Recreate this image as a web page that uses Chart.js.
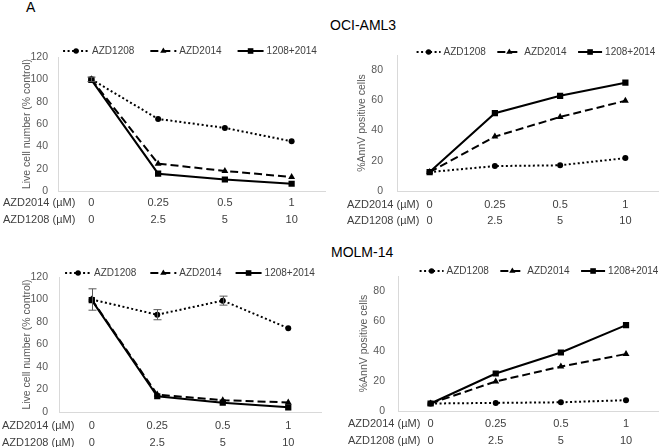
<!DOCTYPE html>
<html>
<head>
<meta charset="utf-8">
<script src="https://cdn.jsdelivr.net/npm/chart.js@4.4.1/dist/chart.umd.min.js"></script>
<style>
  body { margin: 0; background: #fff; }
  #page { position: relative; width: 663px; height: 447px; overflow: hidden; font-family: "Liberation Sans", Arial, sans-serif; }
  canvas { position: absolute; }
  .panel-title { position: absolute; color: #000; font-size: 14px; line-height: 16px; white-space: nowrap; }
</style>
</head>
<body>
<div id="page">
  <div class="panel-title" style="left:26px; top:-1px;">A</div>
  <div class="panel-title" style="left:330px; top:17px;">OCI-AML3</div>
  <div class="panel-title" style="left:331px; top:244px;">MOLM-14</div>
  <canvas id="ociLive" width="331" height="230" style="left:0; top:0;"></canvas>
  <canvas id="ociAnnV" width="332" height="230" style="left:331px; top:0;"></canvas>
  <canvas id="molmLive" width="331" height="217" style="left:0; top:230px;"></canvas>
  <canvas id="molmAnnV" width="332" height="217" style="left:331px; top:230px;"></canvas>
</div>
<script>
// Doses (two rows of x labels) and series names
const doseAZD2014 = ["0", "0.25", "0.5", "1"];
const doseAZD1208 = ["0", "2.5", "5", "10"];
const rowNames = ["AZD2014 (\u00b5M)", "AZD1208 (\u00b5M)"];
const seriesNames = ["AZD1208", "AZD2014", "1208+2014"];

// OCI-AML3
const ociLive1208 = [100, 64.5, 56.5, 44.5];
const ociLive2014 = [100, 24.5, 18, 12.5];
const ociLiveCombo = [99.5, 15.5, 10.3, 6.5];
const ociLive1208Err = [2, 0, 0, 0];
const ociAnnV1208 = [12.5, 16.5, 17, 21.8];
const ociAnnV2014 = [12.5, 36, 49, 59.7];
const ociAnnVCombo = [12.5, 51.5, 63, 71.7];

// MOLM-14
const molmLive1208 = [100, 86.5, 99, 74.5];
const molmLive2014 = [100, 15.5, 10.5, 8.5];
const molmLiveCombo = [99.5, 14, 8.3, 4.2];
const molmLive1208Err = [9.5, 4.5, 4, 0];
const molmAnnV1208 = [5, 5.4, 5.8, 7.2];
const molmAnnV2014 = [5, 19.7, 29.6, 38];
const molmAnnVCombo = [5, 25, 39, 57.2];

Chart.defaults.font.family = '"Liberation Sans", Arial, sans-serif';

const xLabels = doseAZD2014.map((d, i) => [d, doseAZD1208[i]]);

// Draws one marker (circle / triangle / square) like Chart.js does
const drawMarker = (ctx, style, x, y, r) => {
  ctx.beginPath();
  if (style === "circle") {
    ctx.arc(x, y, r, 0, Math.PI * 2);
  } else if (style === "triangle") {
    for (let k = 0; k < 3; k++) {
      const a = -Math.PI / 2 + k * (2 * Math.PI / 3);
      const px = x + Math.cos(a) * r;
      const py = y + Math.sin(a) * r;
      if (k === 0) ctx.moveTo(px, py); else ctx.lineTo(px, py);
    }
    ctx.closePath();
  } else {
    const s = Math.SQRT1_2 * r;
    ctx.rect(x - s, y - s, 2 * s, 2 * s);
  }
  ctx.fill();
};

// Legend (line + marker), row names under the x axis and error bars
const panelExtras = {
  id: "panelExtras",
  afterDatasetsDraw(chart, args, opts) {
    const ctx = chart.ctx;
    const xs = chart.scales.x;
    const ys = chart.scales.y;
    (opts.errors || []).forEach((err) => {
      const data = chart.data.datasets[err.datasetIndex].data;
      ctx.save();
      ctx.strokeStyle = "#595959";
      ctx.lineWidth = 1;
      err.values.forEach((e, i) => {
        if (!e) return;
        const x = Math.round(xs.getPixelForValue(i)) + 0.5;
        const yTop = ys.getPixelForValue(data[i] + e);
        const yBot = ys.getPixelForValue(data[i] - e);
        ctx.beginPath();
        ctx.moveTo(x, yTop); ctx.lineTo(x, yBot);
        ctx.moveTo(x - 4, yTop); ctx.lineTo(x + 4, yTop);
        ctx.moveTo(x - 4, yBot); ctx.lineTo(x + 4, yBot);
        ctx.stroke();
      });
      ctx.restore();
    });
  },
  afterDraw(chart, args, opts) {
    const ctx = chart.ctx;
    // legend
    ctx.save();
    ctx.font = '10px "Liberation Sans", Arial, sans-serif';
    const sampleW = opts.sampleW, gap = 3, itemGap = opts.itemGap;
    const items = chart.data.datasets.map((ds) => ({ ds, w: ctx.measureText(ds.label).width }));
    const total = items.reduce((s, it) => s + sampleW + gap + it.w, 0) + itemGap * (items.length - 1);
    let x = opts.legendX - total / 2;
    const y = opts.legendY;
    items.forEach(({ ds, w }) => {
      ctx.strokeStyle = "#000";
      ctx.fillStyle = "#000";
      ctx.lineWidth = 2;
      ctx.setLineDash(ds.borderDash);
      ctx.beginPath();
      ctx.moveTo(x, y); ctx.lineTo(x + sampleW, y);
      ctx.stroke();
      ctx.setLineDash([]);
      drawMarker(ctx, ds.pointStyle, x + sampleW / 2, y, ds.pointRadius * 0.9);
      ctx.fillStyle = "#404040";
      ctx.textBaseline = "middle";
      ctx.textAlign = "left";
      ctx.fillText(ds.label, x + sampleW + gap, y);
      x += sampleW + gap + w + itemGap;
    });
    // row names under the axis
    ctx.font = '11px "Liberation Sans", Arial, sans-serif';
    ctx.fillStyle = "#404040";
    const row1 = chart.chartArea.bottom + opts.xPad + opts.xLine / 2;
    rowNames.forEach((name, i) => {
      ctx.fillText(name, opts.rowX, row1 + i * opts.xLine);
    });
    ctx.restore();
  },
};

const makeDatasets = (a, b, c) => [
  { label: seriesNames[0], data: a, borderDash: [2, 2.5], pointStyle: "circle", pointRadius: 3 },
  { label: seriesNames[1], data: b, borderDash: [8, 4], pointStyle: "triangle", pointRadius: 4 },
  { label: seriesNames[2], data: c, borderDash: [], pointStyle: "rect", pointRadius: 4.4 },
].map((ds) => ({
  ...ds,
  borderColor: "#000",
  backgroundColor: "#000",
  borderWidth: 2,
  pointBackgroundColor: "#000",
  pointBorderColor: "#000",
  pointBorderWidth: 0,
  tension: 0,
}));

// Builds one panel; cfg holds the layout numbers of that panel
const buildChart = (id, datasets, cfg) => new Chart(document.getElementById(id), {
  type: "line",
  data: { labels: xLabels, datasets },
  options: {
    responsive: false,
    animation: false,
    layout: { padding: { left: 0, top: cfg.top, right: cfg.right, bottom: 0 } },
    plugins: {
      legend: { display: false },
      tooltip: { enabled: false },
      panelExtras: {
        legendX: cfg.legendX, legendY: cfg.legendY, sampleW: cfg.sampleW, itemGap: cfg.itemGap,
        rowX: cfg.rowX, xPad: cfg.xPad, xLine: cfg.xLine, errors: cfg.errors,
      },
    },
    scales: {
      x: {
        offset: true,
        grid: { display: false, drawTicks: false },
        border: { color: "#d9d9d9" },
        ticks: { padding: cfg.xPad, color: "#404040", maxRotation: 0, autoSkip: false, font: { size: 11, lineHeight: cfg.xLine + "px" } },
        afterFit: (s) => { s.height = cfg.xHeight; },
      },
      y: {
        min: 0,
        max: cfg.yMax,
        grid: { display: false, drawTicks: false },
        border: { color: "#d9d9d9" },
        ticks: { stepSize: 20, padding: cfg.yPad, color: "#595959", font: { size: 10.5 } },
        title: { display: true, text: cfg.yTitle, color: "#595959", font: { size: 10.5 }, padding: { top: cfg.titlePad, bottom: 0 } },
        afterBuildTicks: (s) => { s.ticks = s.ticks.filter((t) => t.value % 20 === 0); },
        afterFit: (s) => { s.width = cfg.yWidth; },
      },
    },
  },
  plugins: [panelExtras],
});

buildChart("ociLive", makeDatasets(ociLive1208, ociLive2014, ociLiveCombo), {
  top: 57, right: 6, yWidth: 58, xHeight: 39, yMax: 120, yPad: 10, titlePad: 20.7,
  xPad: 3.5, xLine: 17, rowX: 3, legendX: 190, legendY: 51, sampleW: 26, itemGap: 16,
  yTitle: "Live cell number (% control)",
  errors: [{ datasetIndex: 0, values: ociLive1208Err }],
});

buildChart("ociAnnV", makeDatasets(ociAnnV1208, ociAnnV2014, ociAnnVCombo), {
  top: 55, right: 5, yWidth: 66, xHeight: 39, yMax: 90, yPad: 14, titlePad: 24.7,
  xPad: 6, xLine: 16, rowX: 16, legendX: 205, legendY: 52, sampleW: 24, itemGap: 11.5,
  yTitle: "%AnnV positive cells",
});

buildChart("molmLive", makeDatasets(molmLive1208, molmLive2014, molmLiveCombo), {
  top: 47, right: 10, yWidth: 59, xHeight: 35, yMax: 120, yPad: 11, titlePad: 20.7,
  xPad: 5.5, xLine: 17, rowX: 2, legendX: 190, legendY: 43, sampleW: 26, itemGap: 14,
  yTitle: "Live cell number (% control)",
  errors: [{ datasetIndex: 0, values: molmLive1208Err }],
});

buildChart("molmAnnV", makeDatasets(molmAnnV1208, molmAnnV2014, molmAnnVCombo), {
  top: 46, right: 1, yWidth: 67, xHeight: 36, yMax: 90, yPad: 13, titlePad: 26.7,
  xPad: 4.8, xLine: 17, rowX: 17, legendX: 208, legendY: 41, sampleW: 24, itemGap: 11.5,
  yTitle: "%AnnV positive cells",
});
</script>
</body>
</html>
